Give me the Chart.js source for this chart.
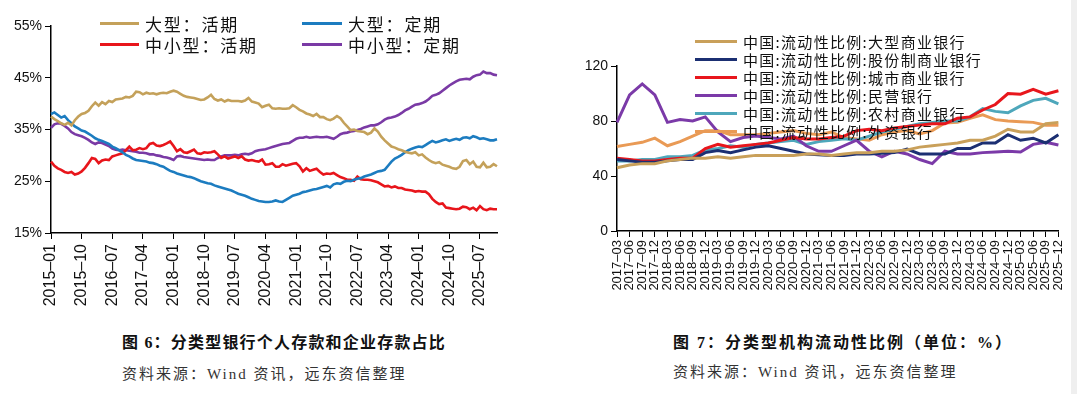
<!DOCTYPE html>
<html>
<head>
<meta charset="utf-8">
<script src="https://cdn.jsdelivr.net/npm/chart.js@4"></script>
<style>
  body { margin: 0; background: #fff; width: 1077px; height: 394px; overflow: hidden; position: relative; font-family: "Liberation Sans", Arial, sans-serif; }
  .box { position: absolute; top: 0; height: 310px; }
  .lg { position: absolute; font-family: "Noto Sans CJK SC", sans-serif; color: #111; white-space: nowrap; }
  .lg i { position: absolute; top: 50%; height: 3px; margin-top: -1.5px; }
  .cap { position: absolute; white-space: nowrap; font-family: "Liberation Serif", "Noto Sans CJK SC", serif; color: #111; }
  .cap b { font-weight: bold; font-size: 16px; letter-spacing: 1.2px; }
  .src { font-size: 15px; color: #333; letter-spacing: 2px; }
  .edge { position: absolute; left: 1071px; top: 0; width: 6px; height: 394px; background: #efefef; }
</style>
</head>
<body>
<div class="box" style="left:0;width:540px"><canvas id="left" width="540" height="310"></canvas></div>
<div class="box" style="left:560px;width:517px"><canvas id="right" width="517" height="310"></canvas></div>
<div id="legLeft"></div>
<div id="legRight"></div>
<div class="cap" style="left:122px;top:329px"><b>图 6：分类型银行个人存款和企业存款占比</b></div>
<div class="cap src" style="left:122px;top:362px">资料来源：Wind 资讯，远东资信整理</div>
<div class="cap" style="left:673px;top:329px"><b style="letter-spacing:2px">图 7：分类型机构流动性比例（单位：%）</b></div>
<div class="cap src" style="left:673px;top:360px">资料来源：Wind 资讯，远东资信整理</div>
<div class="edge"></div>
<script>
// ---- figure 6: monthly 2015-01 .. 2025-12 ----
const months = [];
for (let y = 2015; y <= 2025; y++) {
  for (let m = 1; m <= 12; m++) months.push(y + '-' + String(m).padStart(2, '0'));
}
const leftNames = ['大型：活期', '大型：定期', '中小型：活期', '中小型：定期'];
const leftColors = ['#c4a15a', '#1c7cc0', '#e8151b', '#7a3aa5'];
const leftTicks = ['15%', '25%', '35%', '45%', '55%'];

const bigDemand = [37.5,37.0,36.6,36.2,35.9,36.3,35.8,36.8,37.5,38.0,38.2,38.6,39.5,40.2,39.6,40.3,39.9,40.5,40.3,40.8,
  40.9,41.0,41.3,41.2,41.5,42.3,42.2,41.8,42.1,41.9,42.0,41.8,42.0,42.1,42.0,42.3,42.5,42.3,41.9,41.5,
  41.3,41.2,41.1,40.9,40.7,40.8,41.2,41.7,40.9,40.6,40.8,40.4,40.7,40.5,40.5,40.5,40.4,40.6,41.1,40.4,
  40.2,40.0,39.3,39.6,39.8,39.1,39.0,39.1,39.0,39.0,39.1,39.7,39.3,38.8,38.5,38.1,37.9,37.6,38.0,37.4,
  37.4,37.0,36.8,37.1,37.6,37.2,36.3,35.6,34.9,35.0,34.7,34.6,34.5,34.1,34.4,35.2,34.6,33.6,32.9,32.3,
  31.7,31.5,31.2,31.0,30.7,30.5,30.4,30.6,30.0,30.2,29.6,29.1,28.7,28.5,28.7,28.2,28.0,27.8,27.5,27.4,
  27.8,28.9,29.1,28.3,28.8,27.8,27.7,28.6,27.7,27.8,28.3,27.9];
const bigTime = [38.0,38.3,37.8,37.3,37.6,36.8,36.2,35.6,35.2,34.8,34.6,34.2,33.8,33.3,33.0,32.8,32.5,32.2,31.7,31.4,
  31.0,30.6,30.1,29.8,29.4,29.1,29.0,28.9,28.8,28.6,28.5,28.3,28.0,27.8,27.4,27.0,26.8,26.5,26.3,26.1,
  25.9,25.8,25.6,25.3,25.0,24.8,24.6,24.5,24.2,24.0,23.8,23.6,23.4,23.2,22.9,22.6,22.4,22.2,21.9,21.6,
  21.4,21.2,21.1,21.0,21.0,21.1,21.3,21.1,21.0,21.4,21.8,22.2,22.4,22.6,22.9,23.0,23.2,23.4,23.5,23.7,
  23.9,24.1,23.8,24.4,24.6,24.5,24.9,25.1,25.0,25.3,25.5,25.6,25.9,26.1,26.3,26.6,26.9,27.0,27.2,28.0,
  28.8,29.4,29.7,30.1,30.6,31.0,31.3,31.5,31.7,31.6,32.0,32.4,32.8,32.5,32.7,32.9,33.1,32.8,33.0,33.2,
  33.0,33.4,33.5,33.3,33.7,33.5,33.2,33.3,33.1,32.9,32.9,33.1];
const smallDemand = [28.8,28.0,27.5,27.2,26.8,26.6,26.8,26.3,26.5,26.9,27.6,28.5,29.5,29.3,28.5,29.0,29.2,29.1,29.8,30.0,
  30.2,30.4,31.0,31.7,31.0,31.1,31.4,31.2,31.4,32.2,32.4,31.9,31.8,32.0,32.3,32.7,31.8,30.8,31.2,30.6,
  30.5,30.8,31.1,30.4,30.3,30.6,30.5,30.6,30.8,30.2,29.5,29.8,29.4,29.6,29.8,29.5,29.8,29.2,29.0,29.1,
  28.9,28.8,29.2,28.2,28.3,28.5,27.8,27.8,28.3,28.0,28.2,28.4,28.5,27.9,26.9,27.5,27.0,27.2,27.4,26.8,
  26.3,26.5,26.4,26.6,26.2,25.8,25.6,25.3,25.3,25.1,25.9,25.4,25.3,25.3,25.2,25.0,24.8,24.4,24.0,24.1,
  23.8,24.0,23.7,23.7,23.4,23.3,23.2,23.0,23.1,23.0,23.0,22.5,21.6,21.0,20.6,20.7,19.9,19.8,19.7,19.6,
  19.7,20.1,20.0,19.6,19.9,19.4,20.2,19.6,19.4,19.7,19.6,19.6];
const smallTime = [35.3,36.0,36.2,36.1,35.7,35.2,34.5,34.1,33.9,33.7,33.4,33.0,32.5,32.2,32.5,32.4,32.1,31.8,31.3,31.1,
  31.0,31.1,31.0,30.9,30.8,30.7,30.5,30.5,30.4,30.2,30.2,30.0,29.9,29.7,29.6,29.4,29.1,29.8,29.9,29.7,
  29.6,29.5,29.4,29.3,29.2,29.1,29.2,29.1,29.1,29.5,29.8,30.0,30.0,30.0,30.1,30.0,30.2,30.3,30.2,30.4,
  30.8,31.0,31.1,31.2,31.4,31.6,31.8,32.0,32.2,32.3,32.4,32.8,33.2,33.4,33.4,33.6,33.4,33.5,33.6,33.5,
  33.5,33.6,33.4,33.2,33.6,34.1,34.3,34.4,34.6,34.7,34.9,35.1,35.4,35.6,35.8,35.8,36.0,36.4,36.9,37.2,
  37.3,37.5,37.8,38.2,38.7,39.0,39.4,39.8,39.9,40.1,40.4,40.9,41.5,41.7,42.0,42.5,43.0,43.5,43.9,44.3,
  44.6,44.7,44.8,44.7,45.2,45.5,45.6,46.2,45.9,45.9,45.6,45.5];

// ---- figure 7: quarterly 2017-03 .. 2025-12 ----
const quarters = [];
for (let y = 2017; y <= 2025; y++) {
  ['03', '06', '09', '12'].forEach(q => quarters.push(y + '-' + q));
}
const rightNames = ['中国:流动性比例:大型商业银行', '中国:流动性比例:股份制商业银行', '中国:流动性比例:城市商业银行',
  '中国:流动性比例:民营银行', '中国:流动性比例:农村商业银行', '中国:流动性比例:外资银行'];
const rightColors = ['#c9a05a', '#1b2f72', '#e8161c', '#7b3aa8', '#4ea7bb', '#e99a55'];
const rightTicks = [0, 40, 80, 120];

const largeBank = [46,48,49,49,51,52,53,53,54,53,54,55,55,55,55,56,56,55,56,57,57,58,58,59,61,62,63,64,66,66,69,74,72,72,78,79];
const jointBank = [52,51,50,50,51,52,52,57,58.5,57,59,61,62,60,58,56,55.5,55,55,56,56,56.5,57,59.5,56,56,56,60,60,64,64,70,66,67.5,64,70];
const cityBank = [53,52,51,51,52,53,53,60,63,61,62,63,64,66,68,67,67,68,69,73,74,73,75,76,77,78,78,82,83,88,92,100,99.5,103,99.5,102];
const privateBank = [79,99,107,99,79,81,80,83,72,65,68,69,68,67,69,62,58,58,62,66,58,54,58,56,52,49,58,56,56,57,57.5,58,57.5,63,64.5,62.5];
const ruralBank = [51,51,52,52,54,54,55,59,60,62,61,63,64,65,66,63,65,66,67,66,69,72,74,76,78,79,80,80,83,89,87,86,91,95,96.5,92.5];
const foreignBank = [61.5,63,64.5,67.5,62,65,69,73,73,70,70,70,71,72,73,71,70,72,68,67,66,70,72,73,70.5,73,78.5,79,82,84.5,81,80,79.5,79,77,77];

const tickFont = { family: 'Liberation Sans', size: 14 };

function axisStyle() {
  return {
    grid: { display: true, drawOnChartArea: false, drawTicks: true, tickLength: 6, color: '#000', lineWidth: 1 },
    border: { display: true, color: '#000', width: 1.5 }
  };
}

function lineSet(label, data, color, width) {
  return { label: label, data: data, borderColor: color, backgroundColor: color,
    borderWidth: width, pointRadius: 0, tension: 0, fill: false };
}

new Chart(document.getElementById('left').getContext('2d'), {
  type: 'line',
  data: {
    labels: months,
    datasets: [
      lineSet(leftNames[0], bigDemand, leftColors[0], 2.6),
      lineSet(leftNames[1], bigTime, leftColors[1], 2.6),
      lineSet(leftNames[2], smallDemand, leftColors[2], 2.6),
      lineSet(leftNames[3], smallTime, leftColors[3], 2.6)
    ]
  },
  options: {
    responsive: false,
    animation: false,
    layout: { padding: { top: 26, right: 43, left: 0, bottom: 0 } },
    plugins: { legend: { display: false }, tooltip: { enabled: false } },
    scales: {
      x: {
        ...axisStyle(),
        afterFit: s => { s.height = 77; },
        ticks: {
          autoSkip: false, minRotation: 90, maxRotation: 90, padding: 5,
          color: '#111', font: { family: 'Liberation Sans', size: 16 },
          callback: (v, i) => (i % 9 === 0 ? months[i].replace('-', '–') : null)
        }
      },
      y: {
        ...axisStyle(),
        min: 15, max: 55,
        afterFit: s => { s.width = 51; },
        afterBuildTicks: s => { s.ticks = leftTicks.map(t => ({ value: parseFloat(t) })); },
        ticks: { color: '#111', font: tickFont, padding: 3, callback: v => v + '%' }
      }
    }
  }
});

new Chart(document.getElementById('right').getContext('2d'), {
  type: 'line',
  data: {
    labels: quarters,
    datasets: [
      lineSet(rightNames[0], largeBank, rightColors[0], 3),
      lineSet(rightNames[1], jointBank, rightColors[1], 3),
      lineSet(rightNames[2], cityBank, rightColors[2], 3),
      lineSet(rightNames[3], privateBank, rightColors[3], 3),
      lineSet(rightNames[4], ruralBank, rightColors[4], 3),
      lineSet(rightNames[5], foreignBank, rightColors[5], 3)
    ]
  },
  options: {
    responsive: false,
    animation: false,
    layout: { padding: { top: 66, right: 12, left: 0, bottom: 0 } },
    plugins: { legend: { display: false }, tooltip: { enabled: false } },
    scales: {
      x: {
        ...axisStyle(),
        afterFit: s => { s.height = 79; },
        ticks: {
          autoSkip: false, minRotation: 90, maxRotation: 90, padding: 3,
          color: '#111', font: { family: 'Liberation Sans', size: 13 },
          callback: (v, i) => quarters[i].replace('-', '–')
        }
      },
      y: {
        ...axisStyle(),
        min: 0, max: 120,
        afterFit: s => { s.width = 57; },
        afterBuildTicks: s => { s.ticks = rightTicks.map(t => ({ value: t })); },
        ticks: { color: '#111', font: tickFont, padding: 3 }
      }
    }
  }
});

// HTML legends sitting over the plots
function legendItem(parent, x, y, lineW, text, color, size, ls) {
  const d = document.createElement('div');
  d.className = 'lg';
  d.style.left = x + 'px';
  d.style.top = (y - size * 0.7) + 'px';
  d.style.height = (size * 1.4) + 'px';
  d.style.lineHeight = (size * 1.4) + 'px';
  d.style.fontSize = size + 'px';
  d.style.paddingLeft = (lineW + 6) + 'px';
  d.style.letterSpacing = ls + 'px';
  const l = document.createElement('i');
  l.style.left = '0px';
  l.style.width = lineW + 'px';
  l.style.background = color;
  d.appendChild(l);
  d.appendChild(document.createTextNode(text));
  parent.appendChild(d);
}
const legL = document.getElementById('legLeft');
legendItem(legL, 100, 24, 39, leftNames[0], leftColors[0], 17, 1.8);
legendItem(legL, 302, 24, 40, leftNames[1], leftColors[1], 17, 1.8);
legendItem(legL, 100, 45, 39, leftNames[2], leftColors[2], 17, 1.8);
legendItem(legL, 302, 45, 40, leftNames[3], leftColors[3], 17, 1.8);
const legR = document.getElementById('legRight');
rightNames.forEach((n, i) => legendItem(legR, 695, 41 + i * 18, 42, n, rightColors[i], 15, 1.3));
</script>
</body>
</html>
